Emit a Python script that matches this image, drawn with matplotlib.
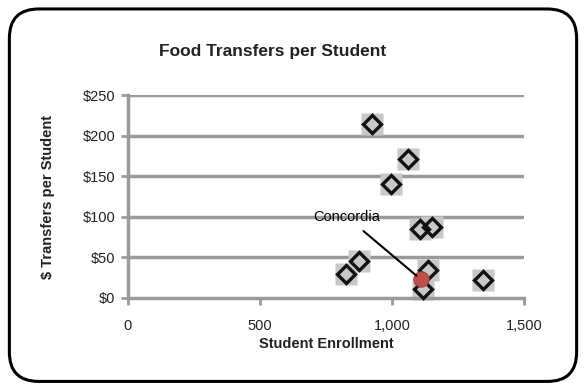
import matplotlib.pyplot as plt
from matplotlib.patches import FancyBboxPatch

plt.rcParams['font.family'] = ['Liberation Sans', 'DejaVu Sans']

# enrollment vs food transfers per student
enrollment = [925, 1059, 996, 1150, 1106, 876, 826, 1138, 1119, 1343]
transfers = [214, 171, 141, 88, 85, 46, 30, 34, 11, 22]
concordia_x = 1109
concordia_y = 23

fig = plt.figure(figsize=(5.86, 3.90), dpi=100)
ax = fig.add_axes([0.2184, 0.2359, 0.6758, 0.5205])

grid_col = '#9a9a9a'
for v in [50, 100, 150, 200, 250]:
    ax.axhline(v, color=grid_col, lw=2.5, zorder=1)

ax.plot(enrollment, transfers, 's', ms=15.5, color='#c8c8c8', mec='none', zorder=2, clip_on=False)
ax.plot(enrollment, transfers, 'D', ms=9.5, mfc='none', mec='#111111', mew=2.4, zorder=3, clip_on=False)
ax.plot([concordia_x], [concordia_y], 'o', ms=11, color='#c0504d', mec='#a03c3a', mew=0.8, zorder=4)

ax.annotate('Concordia', xy=(concordia_x, concordia_y), xytext=(828, 100),
            fontsize=10.5, ha='center', va='center',
            arrowprops=dict(arrowstyle='-', color='black', lw=1.5,
                            shrinkA=5, shrinkB=4), zorder=5)

ax.set_xlim(0, 1500)
ax.set_ylim(0, 250)
ax.set_xticks([0, 500, 1000, 1500])
ax.set_xticklabels(['0', '500', '1,000', '1,500'])
ax.set_yticks([0, 50, 100, 150, 200, 250])
ax.set_yticklabels(['$0', '$50', '$100', '$150', '$200', '$250'])

for s in ['top', 'right']:
    ax.spines[s].set_visible(False)
for s in ['left', 'bottom']:
    ax.spines[s].set_color(grid_col)
    ax.spines[s].set_linewidth(2.5)
ax.tick_params(axis='both', colors=grid_col, width=2, length=5, labelsize=10.5, labelcolor='#222222')
ax.tick_params(axis='x', pad=10)
ax.tick_params(axis='y', pad=4)

ax.set_title('Food Transfers per Student', fontsize=12.5, fontweight='bold', color='#222222',
             pad=28, x=0.366)
ax.set_xlabel('Student Enrollment', fontsize=10.5, fontweight='bold', color='#222222', labelpad=3)
ax.set_ylabel('$ Transfers per Student', fontsize=10.5, fontweight='bold', color='#222222', labelpad=20)

border = FancyBboxPatch((0.016, 0.022), 0.968, 0.955, boxstyle='round,pad=0,rounding_size=0.05',
                        transform=fig.transFigure, fill=False, ec='black', lw=2.2, mutation_aspect=1.5)
fig.patches.append(border)

fig.savefig('out.png', dpi=100)
